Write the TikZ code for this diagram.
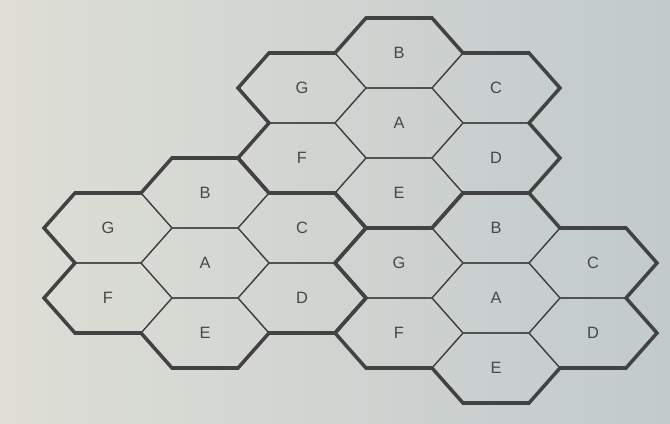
\documentclass[tikz,border=0pt]{standalone}
\usepackage{fontspec}
\setmainfont{Liberation Sans}
\usetikzlibrary{positioning}

\definecolor{paperL}{RGB}{222,222,214}
\definecolor{paperR}{RGB}{194,202,204}
\definecolor{hexline}{RGB}{66,66,66}
\definecolor{lettergray}{RGB}{72,72,72}

% one hexagonal cell: name, centre, letter
\newcommand{\hexcell}[3]{%
  \draw[cell] (#2) +(64,0) -- +(33,35) -- +(-33,35) -- +(-64,0)
    -- +(-33,-35) -- +(33,-35) -- cycle;
  \node[lbl] (#1) at (#2) {#3};
}

% a cluster of seven cells: prefix, centre x, centre y
\newcommand{\cellcluster}[3]{%
  \begin{scope}[shift={(#2,#3)}]
    \hexcell{#1A}{0,0}{A}
    \foreach \nm/\dx/\dy in {B/0/-70, C/97/-35, D/97/35,
                             E/0/70, F/-97/35, G/-97/-35}
      {\hexcell{#1\nm}{\dx,\dy}{\nm}}
    \draw[rim] (-64,-70) -- (-33,-105) -- (33,-105) -- (64,-70)
      -- (130,-70) -- (161,-35) -- (130,0) -- (161,35) -- (130,70)
      -- (64,70) -- (33,105) -- (-33,105) -- (-64,70) -- (-130,70)
      -- (-161,35) -- (-130,0) -- (-161,-35) -- (-130,-70) -- cycle;
  \end{scope}
}

\begin{document}
\begin{tikzpicture}[
        x=0.03cm, y=-0.03cm,
        cell/.style={draw=hexline, line width=1pt},
        rim/.style={draw=hexline, line width=3pt, line join=miter},
        lbl/.style={font=\fontsize{14}{16}\selectfont, text=lettergray},
    ]
    % --- Tło ---
    \useasboundingbox (0,0) rectangle (670,424);
    \shade[left color=paperL, right color=paperR] (0,0) rectangle (670,424);

    % --- Klastry ---
    \cellcluster{t}{399}{123}
    \cellcluster{l}{205}{263}
    \cellcluster{r}{496}{298}
\end{tikzpicture}
\end{document}
